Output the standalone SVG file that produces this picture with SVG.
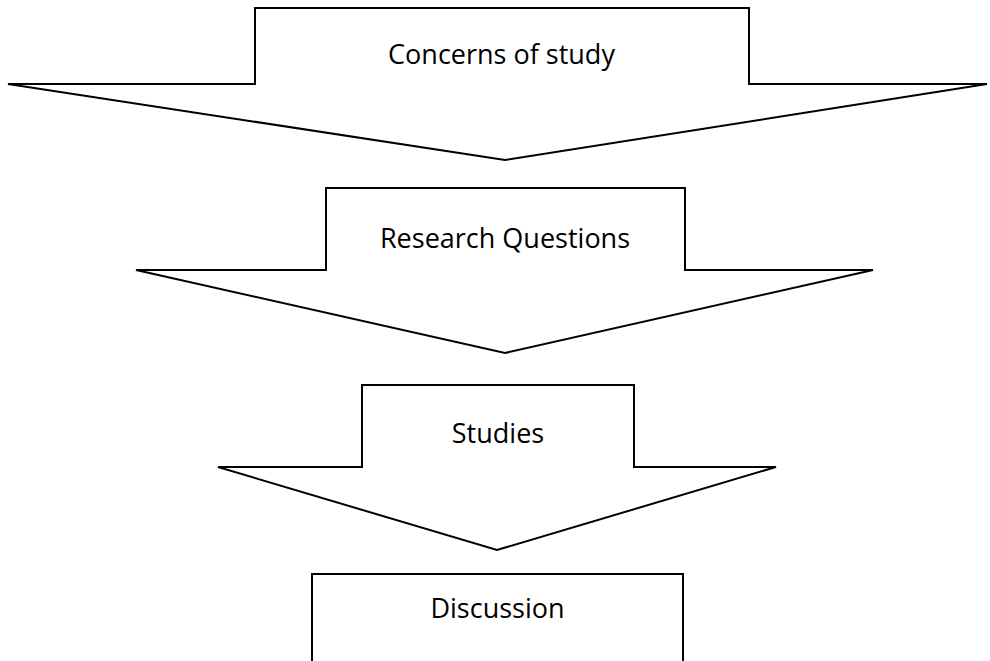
<svg xmlns="http://www.w3.org/2000/svg" width="990" height="661" viewBox="0 0 990 661">
<style>
.s{fill:#fff;stroke:#000;stroke-width:2;stroke-linejoin:miter}
.t{font-family:"Open Sans","Noto Sans",sans-serif;font-size:27px;fill:#000;text-anchor:middle}
</style>
<rect width="990" height="661" fill="#fff"/>
<g id="concerns">
<path class="s" d="M255,8 H749 V84 H987 L505,160 L8,84 H255 Z"/>
<text class="t" x="501.5" y="64">Concerns of study</text>
</g>
<g id="research">
<path class="s" d="M326,188 H685 V270 H873 L505,353 L136,270 H326 Z"/>
<text class="t" x="505" y="248">Research Questions</text>
</g>
<g id="studies">
<path class="s" d="M362,385 H634 V467 H776 L497,550 L218,467 H362 Z"/>
<text class="t" x="498" y="443">Studies</text>
</g>
<g id="discussion">
<path class="s" d="M312,670 V574 H683 V670"/>
<text class="t" x="497.5" y="618">Discussion</text>
</g>
<g id="connectors"></g>
</svg>
